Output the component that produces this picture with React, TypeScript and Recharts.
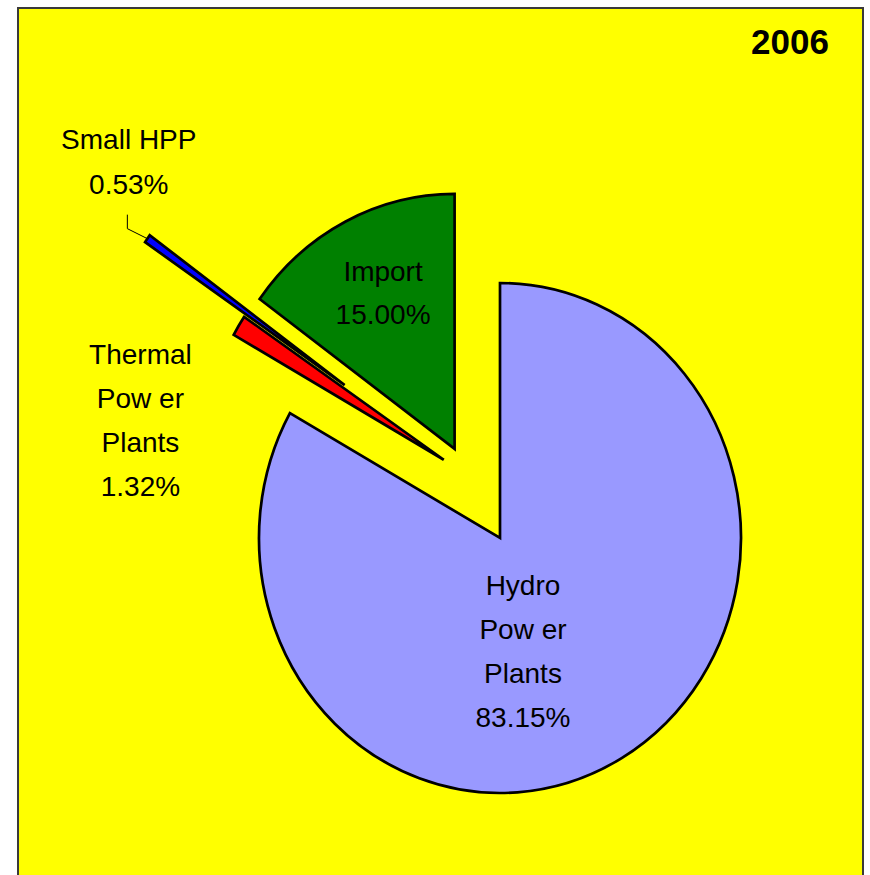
import React from 'react';
import { PieChart, Pie, Cell } from 'recharts';

// ---- data ----
const categories = ['Hydro Power Plants', 'Thermal Power Plants', 'Small HPP', 'Import'];
const shares = [83.15, 1.32, 0.53, 15.0];
const labelLines = [['Hydro', 'Pow er', 'Plants'], ['Thermal', 'Pow er', 'Plants'], ['Small HPP'], ['Import']];
const title = '2006';

// ---- styles ----
const COLORS = ['#9999FF', '#FF0000', '#0000FF', '#008000'];
// explosion per slice: [radial px, tangential px]
const EXPLODE = [[0, 0], [89, 37], [215, 36], [100, 0]];
// label block placement relative to exploded apex: distance px, angle delta (deg) from midAngle
const LABEL_LAYOUT = [
  { dist: 115, delta: -18.8, lh: 44 },
  { dist: 306, delta: 24.1, lh: 44 },
  { dist: 311, delta: -11, lh: 45 },
  { dist: 172.5, delta: -2.5, lh: 43.5 },
];
const ASPECT = 1.058;
const FONT = '"Liberation Sans", Arial, sans-serif';
const FS = 28;
const CAP = 21;
const RAD = Math.PI / 180;

const data = categories.map((name, i) => ({ name, value: shares[i], idx: i }));

function apexOf(cx: number, cy: number, mid: number, i: number) {
  const dx = Math.cos(mid * RAD);
  const dy = -Math.sin(mid * RAD);
  const [er, et] = EXPLODE[i] || [0, 0];
  return { x: cx + er * dx - et * dy, y: cy + er * dy + et * dx };
}

const renderSlice = (props: any) => {
  const { cx, cy, outerRadius, startAngle, endAngle, fill } = props;
  const i = props.payload?.idx ?? props.index ?? 0;
  const mid = (startAngle + endAngle) / 2;
  const a = apexOf(cx, cy, mid, i);
  const rx = outerRadius;
  const ry = outerRadius * ASPECT;
  const p = (ang: number) => [a.x + rx * Math.cos(ang * RAD), a.y - ry * Math.sin(ang * RAD)];
  const [x1, y1] = p(startAngle);
  const [x2, y2] = p(endAngle);
  const large = Math.abs(startAngle - endAngle) > 180 ? 1 : 0;
  const sweep = startAngle > endAngle ? 1 : 0;
  const d = `M${a.x},${a.y} L${x1},${y1} A${rx},${ry} 0 ${large} ${sweep} ${x2},${y2} Z`;
  return <path d={d} fill={fill} stroke="#000" strokeWidth={2.7} strokeLinejoin="miter" />;
};

const renderLabel = (props: any) => {
  const { cx, cy, outerRadius, startAngle, endAngle } = props;
  const i = props.payload?.idx ?? props.index ?? 0;
  const mid = (startAngle + endAngle) / 2;
  const a = apexOf(cx, cy, mid, i);
  const lay = LABEL_LAYOUT[i];
  const ang = mid + lay.delta;
  const bx = a.x + lay.dist * Math.cos(ang * RAD);
  const by = a.y - lay.dist * Math.sin(ang * RAD);
  const lines = [...labelLines[i], `${shares[i].toFixed(2)}%`];
  const n = lines.length;
  const firstBase = by - ((n - 1) * lay.lh + CAP) / 2 + CAP;
  let leader = null;
  if (i === 2) {
    const sx = a.x + outerRadius * Math.cos(mid * RAD);
    const sy = a.y - outerRadius * ASPECT * Math.sin(mid * RAD);
    const ex = sx - 20;
    const ey = sy - 10;
    leader = <polyline points={`${sx},${sy} ${ex},${ey} ${ex},${ey - 14}`} fill="none" stroke="#000" strokeWidth={1} />;
  }
  return (
    <g>
      {leader}
      <text x={bx} textAnchor="middle" fontFamily={FONT} fontSize={FS} fill="#000">
        {lines.map((t, k) => (
          <tspan key={k} x={bx} y={firstBase + k * lay.lh}>{t}</tspan>
        ))}
      </text>
    </g>
  );
};

export default function App() {
  return (
    <div>
      <div
        style={{
          position: 'fixed',
          left: 17,
          top: 7,
          width: 847,
          height: 900,
          boxSizing: 'border-box',
          background: '#FFFF00',
          borderTop: '2px solid #3a3a3a',
          borderLeft: '2px solid #3a3a3a',
          borderRight: '2px solid #3a3a3a',
        }}
      />
      <div style={{ position: 'fixed', left: 0, top: 0, width: 870, height: 875 }}>
        <PieChart width={870} height={875} margin={{ top: 0, right: 0, bottom: 0, left: 0 }}>
          <Pie
            data={data}
            dataKey="value"
            nameKey="name"
            cx={500}
            cy={538}
            outerRadius={241}
            startAngle={90}
            endAngle={-270}
            isAnimationActive={false}
            shape={renderSlice}
            activeShape={renderSlice}
            inactiveShape={renderSlice}
            label={renderLabel}
            labelLine={false}
          >
            {data.map((d, i) => (
              <Cell key={d.name} fill={COLORS[i]} />
            ))}
          </Pie>
        </PieChart>
      </div>
      <svg style={{ position: 'fixed', left: 0, top: 0 }} width={870} height={875}>
        <text x={790} y={54} textAnchor="middle" fontFamily={FONT} fontWeight="bold" fontSize={35} fill="#000">
          {title}
        </text>
      </svg>
    </div>
  );
}
